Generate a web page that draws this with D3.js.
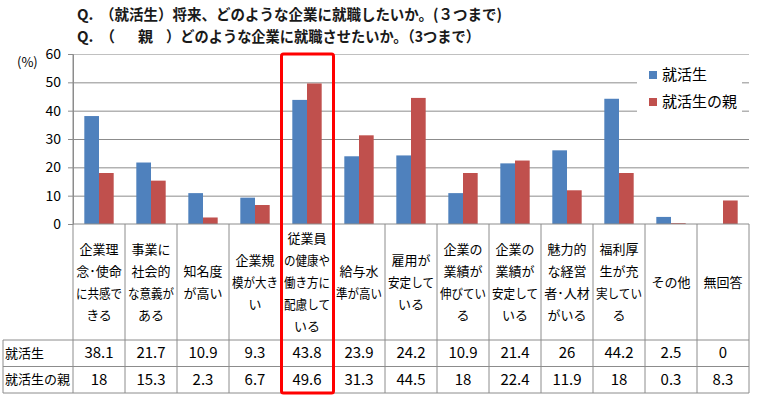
<!DOCTYPE html>
<html>
<head>
<meta charset="utf-8">
<script src="https://cdn.jsdelivr.net/npm/d3@7"></script>
<style>
  body { margin: 0; background: #fff; }
  svg { display: block; font-family: "Noto Sans CJK JP", sans-serif; }
</style>
</head>
<body>
<svg width="759" height="399"></svg>
<script>
// Chart data
const categories = [
  '企業理念･使命に共感できる', '事業に社会的な意義がある', '知名度が高い', '企業規模が大きい',
  '従業員の健康や働き方に配慮している', '給与水準が高い', '雇用が安定している', '企業の業績が伸びている',
  '企業の業績が安定している', '魅力的な経営者･人材がいる', '福利厚生が充実している', 'その他', '無回答'
];
// how each category label wraps in the table header
const labelLines = [
  ['企業理', '念･使命', 'に共感で', 'きる'],
  ['事業に', '社会的', 'な意義が', 'ある'],
  ['知名度', 'が高い'],
  ['企業規', '模が大き', 'い'],
  ['従業員', 'の健康や', '働き方に', '配慮して', 'いる'],
  ['給与水', '準が高い'],
  ['雇用が', '安定して', 'いる'],
  ['企業の', '業績が', '伸びてい', 'る'],
  ['企業の', '業績が', '安定して', 'いる'],
  ['魅力的', 'な経営', '者･人材', 'がいる'],
  ['福利厚', '生が充', '実してい', 'る'],
  ['その他'],
  ['無回答']
];
const seriesNames = ['就活生', '就活生の親'];
const students = [38.1, 21.7, 10.9, 9.3, 43.8, 23.9, 24.2, 10.9, 21.4, 26, 44.2, 2.5, 0];
const parents = [18, 15.3, 2.3, 6.7, 49.6, 31.3, 44.5, 18, 22.4, 11.9, 18, 0.3, 8.3];
const yTicks = [0, 10, 20, 30, 40, 50, 60];
const highlighted = '従業員の健康や働き方に配慮している';

const colors = ['#4F81BD', '#C0504D'];
const lineColor = '#8c8c8c';

const svg = d3.select('svg');
const margin = { top: 54, left: 73, right: 10 };
const plotBottom = 224;
const tableRows = [340, 366.5, 393];
const tableLeft = 3;
const width = 759 - margin.left - margin.right;

const rows = categories.map((c, i) => ({ cat: c, values: [students[i], parents[i]] }));

const x = d3.scaleBand().domain(categories).range([margin.left, margin.left + width]).padding(0);
const x1 = d3.scaleBand().domain(seriesNames).range([0, x.bandwidth()]).paddingInner(0).paddingOuter(0.77);
const y = d3.scaleLinear().domain([0, 60]).range([plotBottom, margin.top]);

// squeeze a text into maxW if it is wider
function fit(sel, maxW) {
  sel.each(function () {
    if (this.getComputedTextLength() > maxW) {
      d3.select(this).attr('textLength', maxW).attr('lengthAdjust', 'spacingAndGlyphs');
    }
  });
}

// Title
const title = svg.append('g')
  .attr('font-size', 15)
  .attr('font-weight', 'bold')
  .attr('fill', '#1a1a1a');
const t1 = title.append('text').attr('y', 20);
t1.append('tspan').attr('x', 77).text('Q.');
t1.append('tspan').attr('x', 100).attr('textLength', 402).attr('lengthAdjust', 'spacingAndGlyphs')
  .text('（就活生）将来、どのような企業に就職したいか。(３つまで)');
const t2 = title.append('text').attr('y', 42);
t2.append('tspan').attr('x', 77).text('Q.');
t2.append('tspan').attr('x', 100).text('（');
t2.append('tspan').attr('x', 138).text('親');
t2.append('tspan').attr('x', 166).attr('textLength', 314).attr('lengthAdjust', 'spacingAndGlyphs')
  .text('）どのような企業に就職させたいか。（3つまで）');

// Gridlines
svg.append('g')
  .attr('class', 'grid')
  .attr('transform', 'translate(' + margin.left + ',0)')
  .call(d3.axisLeft(y).tickValues(yTicks.slice(1)).tickSize(-width).tickFormat(''))
  .call((g) => g.select('.domain').remove())
  .selectAll('line')
  .attr('stroke', (d) => (d === 60 ? '#c0c0c0' : lineColor));

// Y axis
const yAxis = svg.append('g')
  .attr('transform', 'translate(' + margin.left + ',0)')
  .call(d3.axisLeft(y).tickValues(yTicks).tickSize(5).tickSizeOuter(0).tickPadding(7));
yAxis.select('.domain').attr('stroke', lineColor);
yAxis.selectAll('.tick line').attr('stroke', lineColor);
yAxis.selectAll('.tick text')
  .attr('font-family', '"Noto Sans CJK JP", sans-serif')
  .attr('font-size', 14)
  .attr('fill', '#000');

svg.append('text')
  .attr('x', 17)
  .attr('y', 67)
  .attr('font-size', 13)
  .text('(%)');

// Bars
const groups = svg.selectAll('.cat')
  .data(rows)
  .enter()
  .append('g')
  .attr('class', 'cat')
  .attr('transform', (d) => 'translate(' + x(d.cat) + ',0)');

groups.selectAll('rect')
  .data((d) => d.values.map((v, i) => ({ name: seriesNames[i], v: v, i: i })))
  .enter()
  .append('rect')
  .attr('x', (d) => x1(d.name))
  .attr('y', (d) => y(d.v))
  .attr('width', x1.bandwidth())
  .attr('height', (d) => plotBottom - y(d.v))
  .attr('fill', (d) => colors[d.i]);

// Table lines
const table = svg.append('g').attr('stroke', lineColor).attr('fill', 'none');
table.append('line')
  .attr('x1', margin.left).attr('x2', margin.left + width)
  .attr('y1', plotBottom).attr('y2', plotBottom);
tableRows.forEach((ty) => {
  table.append('line')
    .attr('x1', tableLeft).attr('x2', margin.left + width)
    .attr('y1', ty).attr('y2', ty);
});
table.append('line')
  .attr('x1', tableLeft).attr('x2', tableLeft)
  .attr('y1', tableRows[0]).attr('y2', tableRows[2]);
categories.concat([null]).forEach((c) => {
  const lx = c === null ? margin.left + width : x(c);
  table.append('line')
    .attr('x1', lx).attr('x2', lx)
    .attr('y1', c === categories[0] ? margin.top : plotBottom)
    .attr('y2', tableRows[2]);
});

// Category labels
const labelMid = (plotBottom + tableRows[0]) / 2;
const lineH = 22;
categories.forEach((c, i) => {
  const lines = labelLines[i];
  const top = labelMid - ((lines.length - 1) * lineH) / 2;
  svg.append('g')
    .selectAll('text')
    .data(lines)
    .enter()
    .append('text')
    .attr('x', x(c) + x.bandwidth() / 2)
    .attr('y', (d, j) => top + j * lineH + 4.5)
    .attr('text-anchor', 'middle')
    .attr('font-size', 13)
    .attr('fill', '#000')
    .text((d) => d)
    .call(fit, 46);
});

// Table values
[students, parents].forEach((vals, r) => {
  const rowMid = (tableRows[r] + tableRows[r + 1]) / 2;
  svg.append('text')
    .attr('x', 5)
    .attr('y', rowMid + 4.5)
    .attr('font-size', 13)
    .text(seriesNames[r]);
  svg.append('g')
    .selectAll('text')
    .data(vals)
    .enter()
    .append('text')
    .attr('x', (d, i) => x(categories[i]) + x.bandwidth() / 2)
    .attr('y', rowMid + 5)
    .attr('text-anchor', 'middle')
    .attr('font-size', 15)
    .text((d) => d);
});

// Legend
const legend = svg.append('g');
legend.append('rect')
  .attr('x', 637).attr('y', 60).attr('width', 105).attr('height', 53)
  .attr('fill', '#fff');
seriesNames.forEach((s, i) => {
  const ly = 75 + i * 27;
  legend.append('rect')
    .attr('x', 649).attr('y', ly - 4).attr('width', 8).attr('height', 8)
    .attr('fill', colors[i]);
  legend.append('text')
    .attr('x', 662).attr('y', ly + 5)
    .attr('font-size', 15)
    .text(s);
});

// Highlight box
svg.append('rect')
  .attr('x', x(highlighted) + 0.5)
  .attr('y', margin.top)
  .attr('width', x.bandwidth())
  .attr('height', tableRows[2] - margin.top)
  .attr('rx', 2)
  .attr('fill', 'none')
  .attr('stroke', '#ff0000')
  .attr('stroke-width', 3);
</script>
</body>
</html>
